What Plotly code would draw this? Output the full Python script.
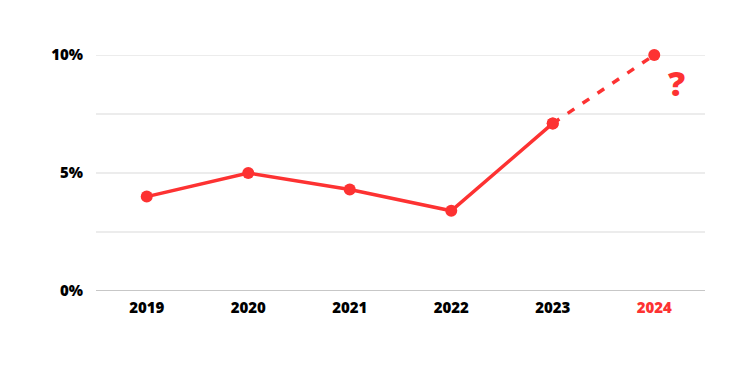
import plotly.graph_objects as go

years = ["2019", "2020", "2021", "2022", "2023", "2024"]
values = [4.0, 5.0, 4.3, 3.4, 7.1, 10.0]
y_ticks = [0, 5, 10]
y_tick_labels = ["0%", "5%", "10%"]

RED = "#fd3232"

fig = go.Figure()
# solid part
fig.add_trace(go.Scatter(
    x=years[:5], y=values[:5], mode="lines+markers",
    line=dict(color=RED, width=3.5),
    marker=dict(size=12, color=RED),
    cliponaxis=False, hoverinfo="skip", showlegend=False))
# projected part
fig.add_trace(go.Scatter(
    x=years[4:], y=values[4:], mode="lines+markers",
    line=dict(color=RED, width=3.5, dash="8px,10px"),
    marker=dict(size=12, color=RED),
    cliponaxis=False, hoverinfo="skip", showlegend=False))

fig.add_annotation(x=5, y=values[5], xref="x", yref="y", text="?",
                   showarrow=False, xshift=22, yshift=-28,
                   font=dict(family="Open Sans", size=34, color=RED, weight=800))

ticktext = [f"{y}" for y in years[:5]] + [f"<span style='color:{RED}'>{years[5]}</span>"]

fig.update_layout(
    width=750, height=369,
    margin=dict(l=96, r=45, t=55, b=78),
    paper_bgcolor="white", plot_bgcolor="white",
    font=dict(family="Open Sans", color="black"),
    xaxis=dict(
        type="category", range=[-0.5, 5.5],
        tickmode="array", tickvals=years, ticktext=ticktext,
        tickfont=dict(size=15, color="black", weight=800),
        showgrid=False, showline=False, zeroline=False, ticks="",
        ticklabelstandoff=6,
    ),
    yaxis=dict(
        range=[0, 10], tickvals=y_ticks, ticktext=y_tick_labels,
        tickfont=dict(size=15, color="black", weight=800),
        showgrid=False, zeroline=False, showline=False, ticks="",
        ticklabelstandoff=12,
    ),
)
# gridlines every 2.5%
for g in [2.5, 5, 7.5, 10]:
    fig.add_shape(type="line", xref="paper", yref="y", x0=0, x1=1, y0=g, y1=g,
                  line=dict(color="#e6e6e6", width=1.5), layer="below")
fig.add_shape(type="line", xref="paper", yref="y", x0=0, x1=1, y0=0, y1=0,
              line=dict(color="#b5b5b5", width=1.5), layer="below")

fig.write_html("out.html")
